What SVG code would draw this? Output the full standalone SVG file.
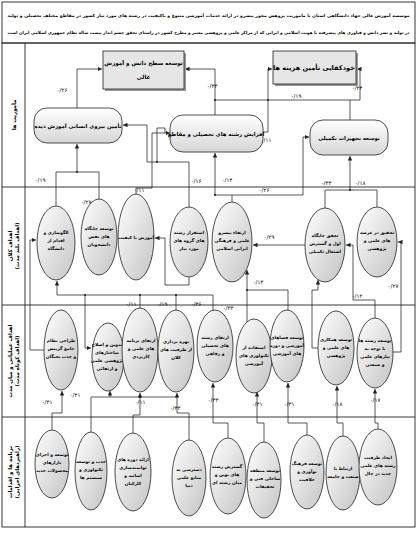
<svg xmlns="http://www.w3.org/2000/svg" width="418" height="534" viewBox="0 0 418 534">
<style>
.fr{fill:none;stroke:#222;stroke-width:0.9}
.t{font-family:"DejaVu Sans",sans-serif;font-size:4.4px;font-weight:bold;text-anchor:middle;direction:rtl;fill:#000}
.h{font-family:"DejaVu Sans",sans-serif;font-size:4.2px;font-weight:bold;text-anchor:middle;direction:rtl;fill:#000}
.l{font-family:"DejaVu Sans",sans-serif;font-size:5.5px;text-anchor:middle;fill:#000}
.rl{font-family:"DejaVu Sans",sans-serif;font-size:5.4px;font-weight:bold;text-anchor:middle;direction:rtl;fill:#000}
.e{fill:url(#g);stroke:#222;stroke-width:0.8}
.s{fill:url(#g2);stroke:#222;stroke-width:0.8}
.c{fill:none;stroke:#222;stroke-width:0.75}
.d{fill:#222}
</style>
<defs>
<linearGradient id="g" x1="0" y1="0" x2="1" y2="1">
<stop offset="0" stop-color="#ffffff"/><stop offset="1" stop-color="#c4c4c4"/>
</linearGradient>
<linearGradient id="g2" x1="0" y1="0" x2="0" y2="1">
<stop offset="0" stop-color="#ffffff"/><stop offset="1" stop-color="#d6d6d6"/>
</linearGradient>
<marker id="a" viewBox="0 0 10 10" refX="10" refY="5" markerWidth="4.5" markerHeight="4.5" markerUnits="userSpaceOnUse" orient="auto">
<path d="M0,0 L10,5 L0,10 z" fill="#222"/>
</marker>
</defs>
<rect x="0" y="0" width="418" height="534" fill="#fff"/>
<g id="frame">
<rect class="fr" x="2" y="2" width="413" height="41"/>
<rect class="fr" x="2" y="43" width="413" height="484"/>
<line class="fr" x1="25" y1="43" x2="25" y2="527"/>
<line class="fr" x1="2" y1="187" x2="415" y2="187"/>
<line class="fr" x1="2" y1="305" x2="415" y2="305"/>
<line class="fr" x1="2" y1="417" x2="415" y2="417"/>
<text class="h" x="208.5" y="17" textLength="402" lengthAdjust="spacingAndGlyphs">موسسه آموزش عالی جهاد دانشگاهی استان با ماموریت پژوهش محور پیشرو در ارائه خدمات آموزشی متنوع و باکیفیت در رشته های مورد نیاز کشور در مقاطع مختلف تحصیلی و تولید</text>
<text class="h" x="208.5" y="34" textLength="402" lengthAdjust="spacingAndGlyphs">در تولید و نشر دانش و فناوری های پیشرفته با هویت اسلامی و ایرانی که از مراکز علمی و پژوهشی معتبر و مطرح کشور در راستای تحقق چشم انداز بیست ساله نظام جمهوری اسلامی ایران است</text>
<text class="rl" transform="translate(16,115) rotate(-90)">مأموریت ها</text>
<text class="rl" transform="translate(12,246) rotate(-90)">اهداف کلان</text>
<text class="rl" transform="translate(19,246) rotate(-90)">(اهداف بلند مدت)</text>
<text class="rl" transform="translate(12,361) rotate(-90)">اهداف عملیاتی و میان مدت</text>
<text class="rl" transform="translate(19,361) rotate(-90)">(اهداف کوتاه مدت)</text>
<text class="rl" transform="translate(12,472) rotate(-90)">برنامه ها و اقدامات</text>
<text class="rl" transform="translate(19,472) rotate(-90)">(راهبردهای اجرایی)</text>
</g>
<g id="connectors">
<path class="c" d="M77,108 V69 H102" marker-end="url(#a)"/>
<path class="c" d="M215,115 V69 H185" marker-end="url(#a)"/>
<path class="c" d="M215,100 H350"/>
<path class="c" d="M262,132 H268 V69 H272" marker-end="url(#a)"/>
<path class="c" d="M350,120 V100 H360 V69 H357" marker-end="url(#a)"/>
<path class="c" d="M189,207 V162 H147 V125 H123" marker-end="url(#a)"/>
<path class="c" d="M136,194 V188 H152 V133 H170" marker-end="url(#a)"/>
<path class="c" d="M157,162 V128 H165 V133"/>
<path class="c" d="M232,202 V195 H215 V153" marker-end="url(#a)"/>
<path class="c" d="M232,195 H303 V137 H309" marker-end="url(#a)"/>
<path class="c" d="M56,206 V172 H99 V199"/>
<path class="c" d="M77,172 V144" marker-end="url(#a)"/>
<path class="c" d="M325,208 V190 H377 V207"/>
<path class="c" d="M350,190 V156" marker-end="url(#a)"/>
<path class="c" d="M305,245 H253" marker-end="url(#a)"/>
<path class="c" d="M375,318 V300 H353 V245 H346" marker-end="url(#a)"/>
<path class="c" d="M318,348 H312 V290 H318 V280" marker-end="url(#a)"/>
<path class="c" d="M393,352 H401 V242 H398" marker-end="url(#a)"/>
<path class="c" d="M44,350 H30 V240 H36" marker-end="url(#a)"/>
<path class="c" d="M213,311 V295 H57 V281" marker-end="url(#a)"/>
<path class="c" d="M140,308 V295"/>
<path class="c" d="M176,310 V295"/>
<path class="c" d="M85,295 V348 H91" marker-end="url(#a)"/>
<path class="c" d="M189,277 V285 H165 V238 H155" marker-end="url(#a)"/>
<path class="c" d="M247,322 V290 H288 V310"/>
<path class="c" d="M247,290 V270" marker-end="url(#a)"/>
<path class="c" d="M52,430 V413 H62 V391" marker-end="url(#a)"/>
<path class="c" d="M91,432 V397 H110 V391" marker-end="url(#a)"/>
<path class="c" d="M110,397 H177"/>
<path class="c" d="M133,433 V415 H140 V393" marker-end="url(#a)"/>
<path class="c" d="M189,440 V413 H177 V393" marker-end="url(#a)"/>
<path class="c" d="M228,438 V423 H213 V383" marker-end="url(#a)"/>
<path class="c" d="M264,442 V423 H257 V392" marker-end="url(#a)"/>
<path class="c" d="M307,435 V423 H288 V383" marker-end="url(#a)"/>
<path class="c" d="M343,436 V423 H337 V386" marker-end="url(#a)"/>
<path class="c" d="M378,429 V423 H375 V389" marker-end="url(#a)"/>
<circle class="d" cx="215" cy="100" r="1.1"/><circle class="d" cx="268" cy="100" r="1.1"/>
<circle class="d" cx="157" cy="162" r="1.1"/><circle class="d" cx="77" cy="172" r="1.1"/>
<circle class="d" cx="350" cy="190" r="1.1"/><circle class="d" cx="140" cy="295" r="1.1"/>
<circle class="d" cx="176" cy="295" r="1.1"/><circle class="d" cx="85" cy="295" r="1.1"/>
<circle class="d" cx="247" cy="290" r="1.1"/><circle class="d" cx="140" cy="397" r="1.1"/>
<circle class="d" cx="215" cy="195" r="1.1"/>
<text class="l" x="62" y="92">۰/۲۶</text>
<text class="l" x="212" y="88">۰/۳۳</text>
<text class="l" x="296" y="98">۰/۱۹</text>
<text class="l" x="266" y="142">۰/۱۱</text>
<text class="l" x="357" y="90">۰/۴۴</text>
<text class="l" x="40" y="182">۰/۱۹</text>
<text class="l" x="86" y="204">۰/۲۷</text>
<text class="l" x="139" y="192">۰/۱۱</text>
<text class="l" x="196" y="183">۰/۱۶</text>
<text class="l" x="227" y="182">۰/۱۴</text>
<text class="l" x="264" y="192">۰/۲۶</text>
<text class="l" x="326" y="185">۰/۳۳</text>
<text class="l" x="360" y="185">۰/۱۸</text>
<text class="l" x="269" y="239">۰/۲۹</text>
<text class="l" x="258" y="284">۰/۱۴</text>
<text class="l" x="357" y="298">۰/۱۲</text>
<text class="l" x="393" y="288">۰/۲۷</text>
<text class="l" x="131" y="306">۰/۱۱</text>
<text class="l" x="162" y="306">۰/۱۹</text>
<text class="l" x="196" y="306">۰/۳۶</text>
<text class="l" x="228" y="310">۰/۳۳</text>
<text class="l" x="47" y="404">۰/۴۱</text>
<text class="l" x="75" y="397">۰/۴۱</text>
<text class="l" x="140" y="404">۰/۱۱</text>
<text class="l" x="175" y="410">۰/۳۳</text>
<text class="l" x="213" y="402">۰/۳۳</text>
<text class="l" x="257" y="406">۰/۳۱</text>
<text class="l" x="289" y="406">۰/۳۱</text>
<text class="l" x="337" y="406">۰/۱۸</text>
<text class="l" x="375" y="402">۰/۱۷</text>
</g>
<g id="n_r1"><rect x="105" y="53" width="81" height="38" fill="#999"/><rect x="103" y="51" width="81" height="38" fill="#e6e6e6" stroke="#222" stroke-width="0.8"/>
<text class="t" style="font-size:5.6px" x="143.5" y="65">توسعه سطح دانش و آموزش</text><text class="t" style="font-size:5.6px" x="143.5" y="79">عالی</text></g>
<g id="n_r2"><rect x="275" y="53" width="83" height="33" fill="#999"/><rect x="273" y="51" width="83" height="33" fill="#e6e6e6" stroke="#222" stroke-width="0.8"/>
<text class="t" style="font-size:6.6px" x="314" y="70">خودکفایی تأمین هزینه ها</text></g>
<g id="n_s1"><rect class="s" x="34" y="108" width="88" height="35" rx="13"/>
<text class="t" style="font-size:5.4px" x="78" y="128">تأمین نیروی انسانی آموزش دیده</text></g>
<g id="n_s2"><rect class="s" x="170" y="115" width="93" height="37" rx="13"/>
<text class="t" style="font-size:5.4px" x="216" y="136">افزایش رشته های تحصیلی و مقاطع</text></g>
<g id="n_s3"><rect class="s" x="310" y="120" width="78" height="35" rx="13"/>
<text class="t" style="font-size:5.4px" x="349" y="140">توسعه تجهیزات تکمیلی</text></g>
<g id="n_e1"><ellipse class="e" cx="56" cy="243" rx="19" ry="37"/>
<text class="t" x="56" y="234">الگوسازی و</text><text class="t" x="56" y="242">اقدام از</text><text class="t" x="56" y="250">دانشگاه</text></g>
<g id="n_e2"><ellipse class="e" cx="99" cy="237" rx="18" ry="38"/>
<text class="t" x="99" y="230">توسعه جایگاه</text><text class="t" x="99" y="238">های نقش</text><text class="t" x="99" y="246">دانشجویان</text></g>
<g id="n_e3"><ellipse class="e" cx="136" cy="237" rx="18" ry="43"/>
<text class="t" x="136" y="239">آموزش با کیفیت</text></g>
<g id="n_e4"><ellipse class="e" cx="189" cy="242" rx="19" ry="35"/>
<text class="t" x="189" y="234">استقرار رشته</text><text class="t" x="189" y="242">های گروه های</text><text class="t" x="189" y="250">مورد نیاز</text></g>
<g id="n_e5"><ellipse class="e" cx="232" cy="242" rx="20" ry="40"/>
<text class="t" x="232" y="234">ارتقاء پیشرو</text><text class="t" x="232" y="242">علمی و فرهنگی</text><text class="t" x="232" y="250">ایرانی اسلامی</text></g>
<g id="n_e6"><ellipse class="e" cx="325" cy="245" rx="20" ry="37"/>
<text class="t" x="325" y="237">تحقق جایگاه</text><text class="t" x="325" y="245">اول و گسترش</text><text class="t" x="325" y="253">اشتغال تکمیلی</text></g>
<g id="n_e7"><ellipse class="e" cx="377" cy="242" rx="20" ry="35"/>
<text class="t" x="377" y="234">تحقیق در عرصه</text><text class="t" x="377" y="242">های علمی و</text><text class="t" x="377" y="250">پژوهشی</text></g>
<g id="n_f1"><ellipse class="e" cx="61" cy="350" rx="17" ry="40"/>
<text class="t" x="61" y="342">طراحی نظام</text><text class="t" x="61" y="350">جامع گزینش</text><text class="t" x="61" y="358">و جذب نخبگان</text></g>
<g id="n_f2"><ellipse class="e" cx="108" cy="357" rx="16" ry="34"/>
<text class="t" x="107" y="346">تدوین و اصلاح</text><text class="t" x="107" y="354">ساختارهای</text><text class="t" x="107" y="362">پژوهشی علمی</text><text class="t" x="107" y="370">و ارتقائی</text></g>
<g id="n_f3"><ellipse class="e" cx="140" cy="350" rx="18" ry="42"/>
<text class="t" x="141" y="342">ارتقای برنامه</text><text class="t" x="141" y="350">های علمی و</text><text class="t" x="141" y="358">کاربردی</text></g>
<g id="n_f4"><ellipse class="e" cx="176" cy="351" rx="18" ry="41"/>
<text class="t" x="176" y="343">بهره برداری</text><text class="t" x="176" y="351">از ظرفیت های</text><text class="t" x="176" y="359">کلان</text></g>
<g id="n_f5"><ellipse class="e" cx="215" cy="346" rx="18" ry="36"/>
<text class="t" x="215" y="339">ارتقای رشته</text><text class="t" x="215" y="347">های تحصیلی</text><text class="t" x="215" y="355">و رفاهی</text></g>
<g id="n_f6"><ellipse class="e" cx="254" cy="356" rx="18" ry="37"/>
<text class="t" x="254" y="349">استفاده از</text><text class="t" x="254" y="357">تکنولوژی های</text><text class="t" x="254" y="365">آموزشی</text></g>
<g id="n_f7"><ellipse class="e" cx="287" cy="346" rx="17" ry="36"/>
<text class="t" x="287" y="339">توسعه فضاهای</text><text class="t" x="287" y="347">آموزشی و دوره</text><text class="t" x="287" y="355">های آموزشی</text></g>
<g id="n_f8"><ellipse class="e" cx="336" cy="348" rx="18" ry="37"/>
<text class="t" x="336" y="341">توسعه همکاری</text><text class="t" x="336" y="349">های علمی و</text><text class="t" x="336" y="357">پژوهشی</text></g>
<g id="n_f9"><ellipse class="e" cx="375" cy="353" rx="18" ry="35"/>
<text class="t" x="375" y="342">توسعه رشته ها</text><text class="t" x="375" y="350">با توجه به</text><text class="t" x="375" y="358">نیازهای علمی</text><text class="t" x="375" y="366">و صنعتی</text></g>
<g id="n_g1"><ellipse class="e" cx="52" cy="464" rx="17" ry="34"/>
<text class="t" x="52" y="456">توسعه و اجرای</text><text class="t" x="52" y="464">بازارهای</text><text class="t" x="52" y="472">محصولات جدید</text></g>
<g id="n_g2"><ellipse class="e" cx="91" cy="471" rx="16" ry="39"/>
<text class="t" x="91" y="463">جذب و توسعه</text><text class="t" x="91" y="471">تکنولوژی و</text><text class="t" x="91" y="479">سیستم ها</text></g>
<g id="n_g3"><ellipse class="e" cx="133" cy="472" rx="18" ry="39"/>
<text class="t" x="133" y="461">ارائه دوره های</text><text class="t" x="133" y="469">توانمندسازی</text><text class="t" x="133" y="477">اساتید و</text><text class="t" x="133" y="485">کارکنان</text></g>
<g id="n_g4"><ellipse class="e" cx="189" cy="478" rx="17" ry="38"/>
<text class="t" x="189" y="471">دسترسی به</text><text class="t" x="189" y="479">منابع علمی</text><text class="t" x="189" y="487">دنیا</text></g>
<g id="n_g5"><ellipse class="e" cx="228" cy="476" rx="18" ry="38"/>
<text class="t" x="227" y="468">گسترش رشته</text><text class="t" x="227" y="476">های نوین و</text><text class="t" x="227" y="484">میان رشته ای</text></g>
<g id="n_g6"><ellipse class="e" cx="264" cy="480" rx="17" ry="38"/>
<text class="t" x="265" y="472">توسعه منطقه</text><text class="t" x="265" y="480">ساحلی فنی و</text><text class="t" x="265" y="488">تحقیقات</text></g>
<g id="n_g7"><ellipse class="e" cx="307" cy="472" rx="17" ry="37"/>
<text class="t" x="307" y="465">توسعه فرهنگ</text><text class="t" x="307" y="473">نوآوری و</text><text class="t" x="307" y="481">خلاقیت</text></g>
<g id="n_g8"><ellipse class="e" cx="343" cy="473" rx="17" ry="37"/>
<text class="t" x="343" y="470">ارتباط با</text><text class="t" x="343" y="478">صنعت و جامعه</text></g>
<g id="n_g9"><ellipse class="e" cx="378" cy="467" rx="19" ry="38"/>
<text class="t" x="378" y="459">ایجاد ظرفیت</text><text class="t" x="378" y="467">رشته های علمی</text><text class="t" x="378" y="475">جدید در حال</text></g>
</svg>
